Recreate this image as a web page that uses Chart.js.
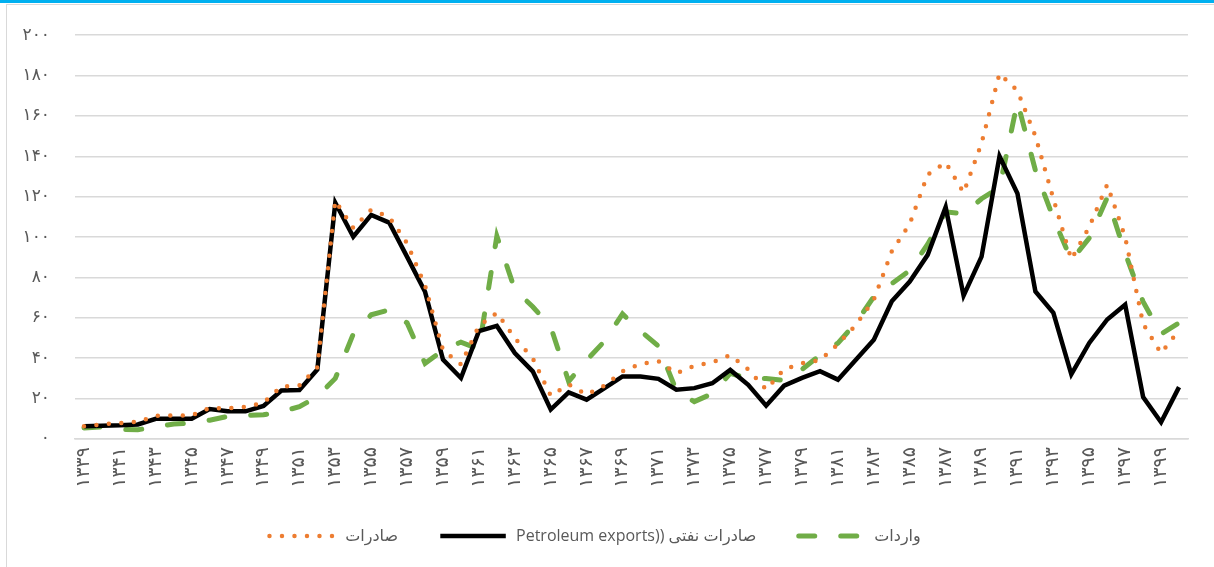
<!DOCTYPE html>
<html><head><meta charset="utf-8">
<script src="https://cdn.jsdelivr.net/npm/chart.js@4.4.1/dist/chart.umd.min.js"></script>
<style>
html,body{margin:0;padding:0;background:#fff;width:1214px;height:567px;overflow:hidden;position:relative}
#bar{position:absolute;left:0;top:0;width:1214px;height:3px;background:#00B0F0}
#frame{position:absolute;left:6px;top:4px;width:1230px;height:600px;border:1.5px solid #D9D9D9;box-sizing:border-box}
#wrap{position:absolute;left:0;top:0;width:1214px;height:567px}
</style></head><body>
<div id="bar"></div><div id="frame"></div>
<div id="wrap"><canvas id="c" width="1214" height="567"></canvas></div>
<script>
const years = [1339,1340,1341,1342,1343,1344,1345,1346,1347,1348,1349,1350,1351,1352,1353,1354,1355,1356,1357,1358,1359,1360,1361,1362,1363,1364,1365,1366,1367,1368,1369,1370,1371,1372,1373,1374,1375,1376,1377,1378,1379,1380,1381,1382,1383,1384,1385,1386,1387,1388,1389,1390,1391,1392,1393,1394,1395,1396,1397,1398,1399,1400];

const exportsLabel = 'صادرات';
const oilLabel = 'Petroleum exports)) صادرات نفتی';
const importsLabel = 'واردات';

const exportsTotal = [6.3,7.3,7.9,8.5,11.5,11.7,11.7,15.3,15.2,15.9,18,26,26.5,35.5,118,104.5,113.5,110,97,76,44,37,56,62.5,50,40,21.5,27,22,26.5,33.5,37.2,38.5,32.5,36.3,38,41.5,34.5,24.5,34.5,37.5,39,47,56.5,69,93,106.5,131,137,122,146.5,181,172.5,150,119,89,105,126,100,57,42.5,54];
const oilExports = [6.3,6.6,6.8,7.2,10,10,10,14.8,13.7,13.7,16.4,24,24.3,34.4,117,100.2,111,107.2,90.2,72.9,39.3,30.2,53.4,56,42.6,33.5,14.6,23.1,19.5,25.2,31,31,29.8,24.4,25.2,27.6,34.2,26.8,16.5,26.4,30.3,33.6,29.4,39.3,49.2,68.2,78,91.2,114.8,71,90.3,140,121.6,73.1,62.5,32,47.6,59.2,66.5,20.8,8.3,25.7];
const imports = [5.5,6,4.8,4.6,6,7.4,8,9.3,11.2,11.6,12,13.5,16,21,30,52,61.5,64,57.5,37.5,44,48,44.5,100.5,74,65.5,55.5,28.5,39,48.5,62,53.5,46,24,18.5,22.5,32.5,30,30,29,34.5,41.5,47.5,57.5,70.5,77,83.5,96.5,112.5,111.5,119,124.5,167,133,109.5,88.5,99.5,119.5,92,68,52,57.5];

const yTicks = [0,20,40,60,80,100,120,140,160,180,200];

const fa = n => String(n).replace(/[0-9]/g, d => '۰۱۲۳۴۵۶۷۸۹'[d]);
const categories = years.map(fa);

const FONT = '"Open Sans", "DejaVu Sans", sans-serif';
const TICKFONT = '"DejaVu Sans", sans-serif';
const SAMPLE = 70;

const legendLines = {
  id: 'legendLines',
  afterDraw(chart) {
    const lg = chart.legend;
    if (!lg || !lg.legendHitBoxes) return;
    const ctx = chart.ctx;
    lg.legendHitBoxes.forEach((hb, i) => {
      const ds = chart.data.datasets[i];
      const y = hb.top + hb.height / 2;
      const w = ds.borderWidth;
      ctx.save();
      ctx.strokeStyle = ds.borderColor;
      ctx.lineWidth = w;
      ctx.lineCap = ds.borderCapStyle || 'butt';
      ctx.setLineDash(ds.borderDash || []);
      ctx.beginPath();
      ctx.moveTo(hb.left + w / 2, y);
      ctx.lineTo(hb.left + SAMPLE - w / 2, y);
      ctx.stroke();
      ctx.restore();
    });
  }
};

new Chart(document.getElementById('c'), {
  type: 'line',
  data: {
    labels: categories,
    datasets: [
      {label: exportsLabel, data: exportsTotal, borderColor: '#ED7D31', backgroundColor: '#ED7D31',
       borderWidth: 4.5, borderDash: [0, 12.5], borderCapStyle: 'round', pointRadius: 0, tension: 0, fill: false},
      {label: oilLabel, data: oilExports, borderColor: '#000000', backgroundColor: '#000000',
       borderWidth: 4.5, borderCapStyle: 'butt', pointRadius: 0, tension: 0, fill: false},
      {label: importsLabel, data: imports, borderColor: '#70AD47', backgroundColor: '#70AD47',
       borderWidth: 5, borderDash: [16, 26], borderCapStyle: 'round', pointRadius: 0, tension: 0, fill: false}
    ]
  },
  options: {
    responsive: false, animation: false, devicePixelRatio: 1,
    layout: {padding: {top: 34, right: 26, left: 0, bottom: 13}},
    plugins: {
      tooltip: {enabled: false},
      legend: {
        position: 'bottom',
        labels: {
          boxWidth: SAMPLE, boxHeight: 2,
          font: {size: 16, family: FONT}, color: '#595959', padding: 40,
          generateLabels: chart => Chart.defaults.plugins.legend.labels.generateLabels(chart).map(it => Object.assign(it, {
            fillStyle: 'rgba(0,0,0,0)', strokeStyle: 'rgba(0,0,0,0)', lineWidth: 0
          }))
        }
      }
    },
    scales: {
      x: {
        offset: true,
        grid: {display: false, drawTicks: false},
        border: {color: '#D9D9D9', width: 1.5},
        ticks: {autoSkip: false, maxRotation: 90, minRotation: 90, padding: 8,
                font: {size: 19, family: TICKFONT}, color: '#595959',
                callback: (v, i) => (i % 2 === 0 ? categories[i] : '')},
        afterFit: s => { s.height = 49; }
      },
      y: {
        min: 0, max: 200,
        afterBuildTicks: s => { s.ticks = yTicks.map(v => ({value: v})); },
        ticks: {padding: 25, font: {size: 17, family: TICKFONT}, color: '#595959', callback: v => fa(v)},
        grid: {color: '#D9D9D9', lineWidth: 1.5, drawTicks: false},
        border: {display: false},
        afterFit: s => { s.width = 75; }
      }
    }
  },
  plugins: [legendLines]
});
</script>
</body></html>
